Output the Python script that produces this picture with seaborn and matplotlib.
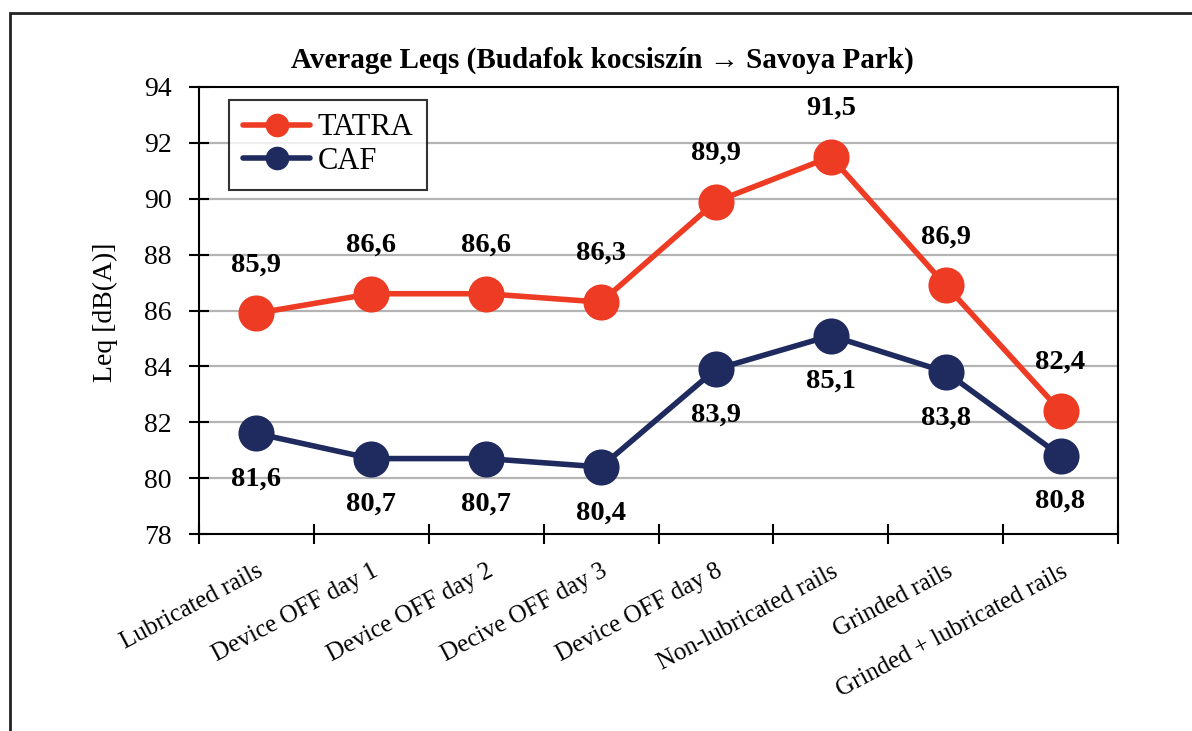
import numpy as np
import pandas as pd
import matplotlib.pyplot as plt
import seaborn as sns
from matplotlib.patches import Rectangle

sns.set_theme(style="white")
plt.rcParams['font.family'] = ['Liberation Serif', 'DejaVu Serif']
plt.rcParams.update({'text.color': 'black', 'xtick.color': 'black', 'ytick.color': 'black',
                     'axes.labelcolor': 'black'})

# Data
categories = ['Lubricated rails', 'Device OFF day 1', 'Device OFF day 2', 'Decive OFF day 3',
              'Device OFF day 8', 'Non-lubricated rails', 'Grinded rails', 'Grinded + lubricated rails']
tatra = [85.9, 86.6, 86.6, 86.3, 89.9, 91.5, 86.9, 82.4]
caf = [81.6, 80.7, 80.7, 80.4, 83.9, 85.1, 83.8, 80.8]
series_names = ['TATRA', 'CAF']
palette = {'TATRA': '#EE3B24', 'CAF': '#1F2A5E'}

df = pd.DataFrame({
    'pos': list(range(len(categories))) * 2,
    'Leq': tatra + caf,
    'Series': ['TATRA'] * len(tatra) + ['CAF'] * len(caf),
})

fig = plt.figure(figsize=(11.92, 7.31), dpi=100)
ax = fig.add_axes([199 / 1192, 1 - 534 / 731, (1118 - 199) / 1192, (534 - 87) / 731])

sns.lineplot(data=df, x='pos', y='Leq', hue='Series', hue_order=series_names, palette=palette,
             marker='o', markersize=26, linewidth=4, markeredgewidth=0, ax=ax, legend=False)

# value labels: TATRA above, CAF below
for name, vals, off in [('TATRA', tatra, 35), ('CAF', caf, -33)]:
    for i, v in enumerate(vals):
        ax.annotate(f"{v:.1f}".replace('.', ','), (i, v), xytext=(0, off), textcoords='offset points',
                    ha='center', va='center', fontsize=20.5, fontweight='bold', color='black')

ax.set_xlim(-0.5, len(categories) - 0.5)
ax.set_ylim(78, 94)
ax.set_yticks(np.arange(78, 95, 2))
ax.set_xticks(np.arange(-0.5, len(categories), 1.0))
ax.set_xticklabels([])
ax.set_xticks(np.arange(len(categories)), minor=True)
ax.set_xticklabels(categories, minor=True, rotation=28, ha='right', rotation_mode='anchor', fontsize=18)
ax.tick_params(axis='x', which='minor', bottom=True, length=0, pad=19)
ax.tick_params(axis='x', which='major', bottom=True, direction='inout', length=15, width=1.5, color='black')
ax.tick_params(axis='y', left=True, direction='inout', length=15, width=1.5, color='black',
               labelsize=20, pad=12)
ax.set_xlabel('')
ax.set_ylabel('')

for y in range(80, 94, 2):
    ax.axhline(y, color='#b4b4b4', linewidth=1.6, zorder=0)
for s in ax.spines.values():
    s.set_color('black')
    s.set_linewidth(1.5)

handles = [plt.Line2D([], [], color=palette[n], linewidth=4, marker='o', markersize=16) for n in series_names]
leg = ax.legend(handles, series_names, loc='upper left', bbox_to_anchor=(0.033, 0.972), fontsize=22,
                frameon=True, fancybox=False, edgecolor='black', handlelength=2.2, borderpad=0.45,
                labelspacing=0.15, handletextpad=0.25, borderaxespad=0)
leg.get_frame().set_linewidth(1.5)

fig.text(602 / 1192, 1 - 60 / 731, 'Average Leqs (Budafok kocsiszín → Savoya Park)',
         ha='center', va='center', fontsize=21, fontweight='bold', family=['Liberation Serif', 'DejaVu Serif'])
fig.text(105 / 1192, 1 - 312 / 731, 'Leq [dB(A)]', rotation=90, ha='center', va='center', fontsize=20)

fig.patches.append(Rectangle((10 / 1192, -0.1), 1.2, 1 - 13 / 731 + 0.1, transform=fig.transFigure,
                             fill=False, edgecolor='#222222', linewidth=2))

fig.savefig('out.png', dpi=100)
